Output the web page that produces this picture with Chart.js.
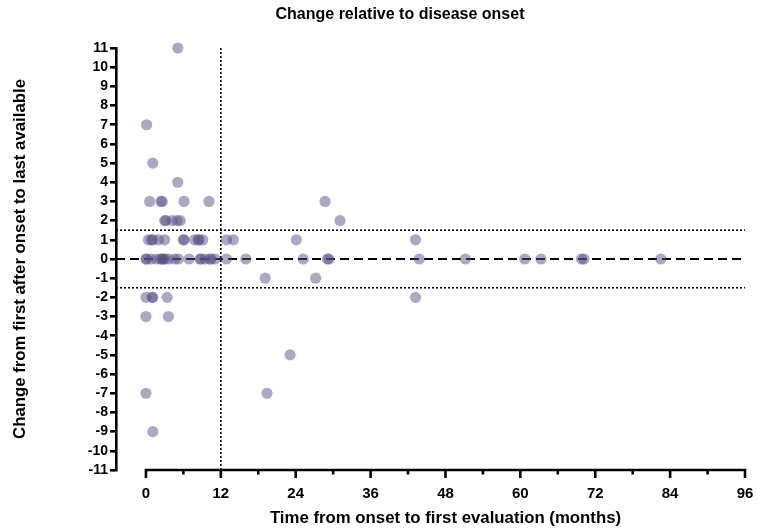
<!DOCTYPE html>
<html><head><meta charset="utf-8">
<script src="https://cdn.jsdelivr.net/npm/chart.js@4/dist/chart.umd.min.js"></script>
<style>html,body{margin:0;padding:0;background:#fff}#wrap{width:757px;height:531px;position:relative}</style>
</head><body><div id="wrap"><canvas id="c"></canvas></div>
<script>
const chartTitle = 'Change relative to disease onset';
const xTitle = 'Time from onset to first evaluation (months)';
const yTitle = 'Change from first after onset to last available';

// months from onset to first evaluation
const months = [
  5.1,
  0.1,
  1.1,
  5.1,
  0.6, 2.4, 2.6, 6.1, 10.1, 28.7,
  3.0, 3.2, 4.2, 5.0, 5.5, 31.1,
  0.4, 0.9, 1.1, 2.0, 3.0, 6.0, 6.1, 7.8, 8.4, 8.5, 9.1, 12.9, 14.0, 24.1, 43.2,
  0, 0.1, 0.8, 1.7, 2.4, 2.6, 2.8, 3.0, 3.6, 4.6, 5.2, 6.9, 8.7, 8.8, 9.5, 10.3, 10.4, 11.1, 12.9, 16.0, 25.2, 29.1, 29.3, 43.8, 51.2, 60.7, 63.3, 69.8, 70.2, 82.5,
  19.1, 27.2,
  0, 1.0, 1.1, 3.4, 43.2,
  0, 3.6,
  23.1,
  0, 19.4,
  1.1
];
// change from first after onset to last available
const change = [
  11,
  7,
  5,
  4,
  3, 3, 3, 3, 3, 3,
  2, 2, 2, 2, 2, 2,
  1, 1, 1, 1, 1, 1, 1, 1, 1, 1, 1, 1, 1, 1, 1,
  0, 0, 0, 0, 0, 0, 0, 0, 0, 0, 0, 0, 0, 0, 0, 0, 0, 0, 0, 0, 0, 0, 0, 0, 0, 0, 0, 0, 0, 0,
  -1, -1,
  -2, -2, -2, -2, -2,
  -3, -3,
  -5,
  -7, -7,
  -9
];

const xTickValues = [0, 12, 24, 36, 48, 60, 72, 84, 96];
const xMinorTickValues = [6, 18, 30, 42, 54, 66, 78, 90];
const yMin = -11, yMax = 11;
const xMin = -4.8, xMax = 96;
const thresholdMonths = 12;
const thresholdChange = [1.5, -1.5];
const baselineChange = 0;

const FONT = '"Liberation Sans", Arial, Helvetica, sans-serif';
Chart.defaults.font.family = FONT;
Chart.defaults.color = '#000';

const points = months.map((m, i) => ({x: m, y: change[i]}));

const refLines = [
  {data: [{x: thresholdMonths, y: yMin}, {x: thresholdMonths, y: yMax}], borderDash: [2, 2], borderWidth: 1.6},
  {data: [{x: xMin, y: thresholdChange[0]}, {x: xMax, y: thresholdChange[0]}], borderDash: [2, 2], borderWidth: 1.6},
  {data: [{x: xMin, y: thresholdChange[1]}, {x: xMax, y: thresholdChange[1]}], borderDash: [2, 2], borderWidth: 1.6},
  {data: [{x: xMin, y: baselineChange}, {x: xMax, y: baselineChange}], borderDash: [9, 5], borderWidth: 2.2}
].map(l => Object.assign({
  type: 'line', borderColor: '#000', pointRadius: 0, fill: false, showLine: true, order: 2
}, l));

const axisPlugin = {
  id: 'axisPlugin',
  afterDraw(chart) {
    const {ctx, chartArea, scales: {x}} = chart;
    ctx.save();
    ctx.strokeStyle = '#000';
    ctx.lineWidth = 2.6;
    ctx.lineCap = 'butt';
    const yb = chartArea.bottom;
    const x0 = x.getPixelForValue(xTickValues[0]);
    const x1 = x.getPixelForValue(xTickValues[xTickValues.length - 1]);
    ctx.beginPath();
    ctx.moveTo(x0 - 1.3, yb); ctx.lineTo(x1 + 1.3, yb);
    xTickValues.forEach(v => { const p = x.getPixelForValue(v); ctx.moveTo(p, yb); ctx.lineTo(p, yb + 8); });
    xMinorTickValues.forEach(v => { const p = x.getPixelForValue(v); ctx.moveTo(p, yb); ctx.lineTo(p, yb + 4.5); });
    ctx.stroke();

    ctx.fillStyle = '#000';
    ctx.textAlign = 'center';
    ctx.textBaseline = 'middle';
    ctx.font = 'bold 16px ' + FONT;
    ctx.fillText(chartTitle, 400, 15);
    ctx.font = 'bold 16.8px ' + FONT;
    ctx.fillText(xTitle, (x0 + x1) / 2, 518);
    ctx.translate(20, (chartArea.top + chartArea.bottom) / 2);
    ctx.rotate(-Math.PI / 2);
    ctx.fillText(yTitle, 0, 0);
    ctx.restore();
  }
};

new Chart(document.getElementById('c'), {
  type: 'scatter',
  data: {
    datasets: [
      ...refLines,
      {
        type: 'scatter',
        data: points,
        backgroundColor: 'rgba(90,80,135,0.5)',
        borderWidth: 0,
        pointRadius: 5.6,
        pointHoverRadius: 5.6,
        clip: false,
        order: 1
      }
    ]
  },
  options: {
    responsive: true,
    maintainAspectRatio: false,
    animation: false,
    events: [],
    layout: {padding: {top: 48, right: 12, left: 0, bottom: 0}},
    plugins: {legend: {display: false}, tooltip: {enabled: false}, title: {display: false}},
    scales: {
      x: {
        type: 'linear',
        min: xMin, max: xMax,
        afterBuildTicks: s => { s.ticks = xTickValues.map(v => ({value: v})); },
        afterFit: s => { s.height = 61; s.paddingRight = 0; s.paddingLeft = 0; },
        grid: {display: false},
        border: {display: false},
        ticks: {padding: 7, autoSkip: false, maxRotation: 0, font: {size: 15, weight: 'bold'}, color: '#000'}
      },
      y: {
        type: 'linear',
        min: yMin, max: yMax,
        afterFit: s => { s.width = 116; s.paddingTop = 0; s.paddingBottom = 0; },
        ticks: {stepSize: 1, autoSkip: false, padding: 2, font: {size: 14, weight: 'bold'}, color: '#000'},
        grid: {display: true, drawOnChartArea: false, drawTicks: true, tickLength: 6, color: '#000', lineWidth: 2.6},
        border: {display: true, color: '#000', width: 2.6}
      }
    }
  },
  plugins: [axisPlugin]
});
</script>
</body></html>
